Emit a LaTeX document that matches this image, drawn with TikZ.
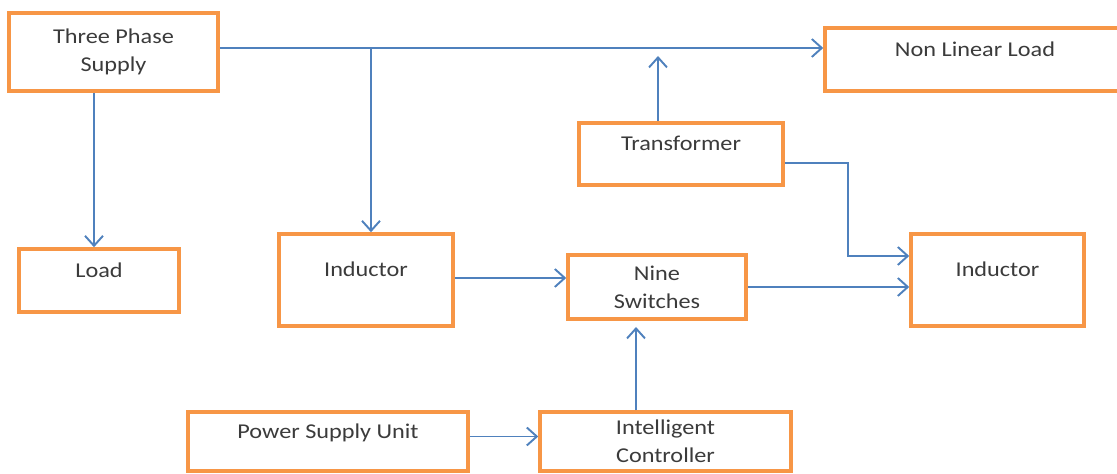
\documentclass[tikz,border=0pt]{standalone}
\usepackage{fontspec}
\setmainfont{Carlito}[FakeStretch=1.15]
\usepackage{tikz}
\usetikzlibrary{arrows.meta,positioning,calc}
\definecolor{boxOrange}{HTML}{F79646}
\definecolor{lineBlue}{HTML}{4F81BD}
\definecolor{textGray}{HTML}{3B3B3B}

\begin{document}
\begin{tikzpicture}[
      blockbox/.style={
        rectangle, draw=boxOrange, line width=2pt, fill=white,
        text=textGray, align=center, font=\fontsize{12pt}{16pt}\selectfont,
        inner sep=2pt
      },
      oneline/.style={blockbox, text height=0.28cm, text depth=0.41cm},
      flowarr/.style={-{Straight Barb[length=2mm,width=3.6mm]}, draw=lineBlue, line width=1.1pt}
    ]
      \useasboundingbox (0,0) rectangle (22.34,-9.48);

      % top row
      \node[blockbox, minimum width=4.18cm, minimum height=1.56cm] (tps) at (2.27,-1.04) {Three Phase\\Supply};
      \node[oneline, minimum width=6cm, minimum height=1.26cm] (nll) at (19.5,-1.19) {Non Linear Load};
      \node[oneline, minimum width=4.08cm, minimum height=1.24cm] (tr) at (13.62,-3.08) {Transformer};

      % middle row
      \node[oneline, minimum width=3.2cm, minimum height=1.26cm] (load) at (1.98,-5.61) {Load};
      \node[oneline, minimum width=3.48cm, minimum height=1.84cm] (indL) at (7.32,-5.6) {Inductor};
      \node[blockbox, minimum width=3.56cm, minimum height=1.28cm] (nine) at (13.14,-5.74) {Nine\\Switches};
      \node[oneline, minimum width=3.46cm, minimum height=1.84cm] (indR) at (19.95,-5.6) {Inductor};

      % bottom row
      \node[oneline, minimum width=5.6cm, minimum height=1.18cm] (psu) at (6.56,-8.83) {Power Supply Unit};
      \node[blockbox, minimum width=5.02cm, minimum height=1.18cm] (ic) at (13.31,-8.83) {Intelligent\\Controller};

      \coordinate (tap) at (7.42,-0.96);
      \coordinate (trup) at (13.16,-1.12);
      \coordinate (bend) at (16.96,-5.12);
      \coordinate (icup) at (12.72,-6.54);

      \draw[flowarr] ([yshift=0.8mm]tps.east) -- ([yshift=0.8mm]tps.east -| nll.west);
      \draw[flowarr] (tap) -- (tap |- indL.north);
      \draw[flowarr] ([xshift=-1mm]load.north |- tps.south) -- ([xshift=-1mm]load.north);
      \draw[flowarr] (trup |- tr.north) -- (trup);
      \draw[flowarr] ([yshift=-1.8mm]tr.east) -| (bend) -- (bend -| indR.west);
      \draw[flowarr] ([yshift=0.4mm]indL.east) -- ([yshift=0.4mm]indL.east -| nine.west);
      \draw[flowarr] (nine.east) -- (nine.east -| indR.west);
      \draw[flowarr] (icup |- ic.north) -- (icup);
      \draw[flowarr] ([yshift=1mm]psu.east) -- ([yshift=1mm]psu.east -| ic.west);
    \end{tikzpicture}
\end{document}
